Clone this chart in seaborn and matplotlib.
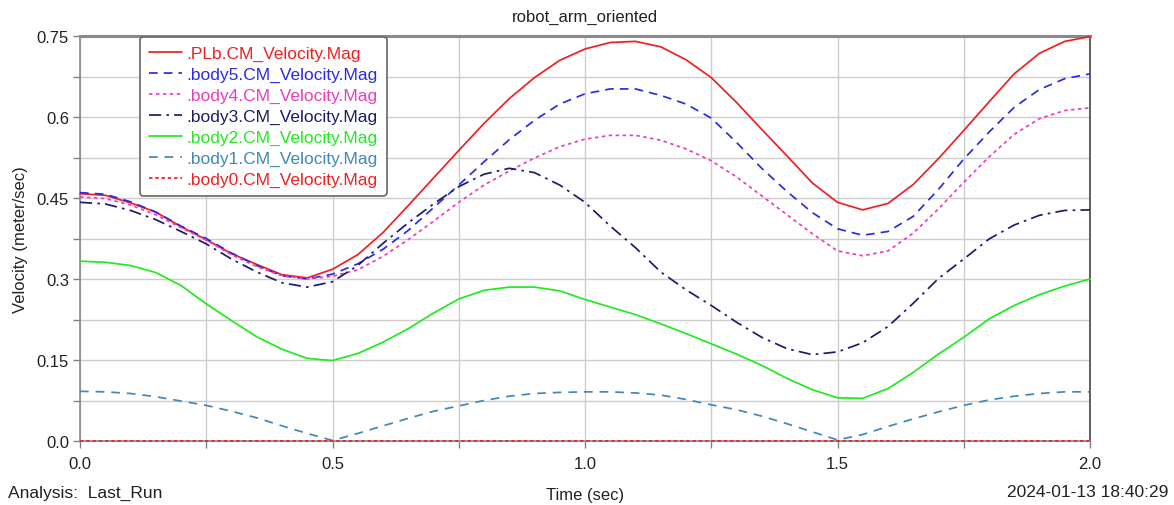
import numpy as np
import pandas as pd
import matplotlib
matplotlib.use("Agg")
import matplotlib.pyplot as plt
from matplotlib.lines import Line2D
from matplotlib.ticker import MultipleLocator, FormatStrFormatter
import seaborn as sns

# ---- data -----------------------------------------------------------------
time_s = np.round(np.arange(0, 2.0001, 0.05), 2)

plb = [0.458, 0.455, 0.441, 0.424, 0.397, 0.373, 0.347, 0.327, 0.308, 0.302,
       0.318, 0.345, 0.386, 0.436, 0.487, 0.538, 0.588, 0.634, 0.673, 0.705,
       0.726, 0.738, 0.740, 0.730, 0.706, 0.673, 0.627, 0.577, 0.528, 0.478,
       0.442, 0.428, 0.440, 0.475, 0.523, 0.575, 0.628, 0.680, 0.718, 0.740,
       0.749]
body5 = [0.460, 0.457, 0.443, 0.424, 0.398, 0.375, 0.348, 0.325, 0.306, 0.300,
         0.309, 0.328, 0.355, 0.390, 0.432, 0.474, 0.517, 0.558, 0.594, 0.624,
         0.643, 0.652, 0.652, 0.640, 0.624, 0.598, 0.553, 0.505, 0.462, 0.423,
         0.393, 0.381, 0.388, 0.416, 0.466, 0.522, 0.572, 0.618, 0.651, 0.671,
         0.680]
body4 = [0.452, 0.449, 0.437, 0.419, 0.395, 0.372, 0.345, 0.323, 0.306, 0.300,
         0.305, 0.317, 0.342, 0.373, 0.407, 0.442, 0.474, 0.500, 0.524, 0.545,
         0.559, 0.566, 0.566, 0.557, 0.541, 0.519, 0.489, 0.454, 0.419, 0.384,
         0.352, 0.343, 0.352, 0.385, 0.430, 0.479, 0.526, 0.568, 0.597, 0.612,
         0.617]
body3 = [0.442, 0.439, 0.427, 0.410, 0.388, 0.365, 0.337, 0.313, 0.293, 0.285,
         0.295, 0.325, 0.366, 0.404, 0.439, 0.471, 0.494, 0.505, 0.497, 0.474,
         0.442, 0.398, 0.358, 0.313, 0.280, 0.251, 0.220, 0.192, 0.171, 0.160,
         0.165, 0.182, 0.212, 0.255, 0.301, 0.337, 0.374, 0.400, 0.418, 0.427,
         0.428]
body2 = [0.333, 0.331, 0.325, 0.312, 0.288, 0.254, 0.223, 0.193, 0.170, 0.153,
         0.149, 0.162, 0.183, 0.208, 0.237, 0.263, 0.279, 0.285, 0.285, 0.278,
         0.262, 0.248, 0.234, 0.217, 0.199, 0.180, 0.161, 0.140, 0.116, 0.095,
         0.080, 0.079, 0.097, 0.127, 0.161, 0.192, 0.226, 0.251, 0.271, 0.287,
         0.300]
body1 = [0.092, 0.091, 0.088, 0.082, 0.074, 0.066, 0.055, 0.043, 0.028, 0.014,
         0.001, 0.014, 0.028, 0.042, 0.055, 0.065, 0.075, 0.083, 0.088, 0.090,
         0.091, 0.091, 0.089, 0.085, 0.077, 0.067, 0.058, 0.046, 0.032, 0.017,
         0.002, 0.012, 0.027, 0.041, 0.054, 0.066, 0.076, 0.083, 0.088, 0.091,
         0.091]
body0 = [0.0] * len(time_s)

series_names = [".PLb.CM_Velocity.Mag", ".body5.CM_Velocity.Mag",
                ".body4.CM_Velocity.Mag", ".body3.CM_Velocity.Mag",
                ".body2.CM_Velocity.Mag", ".body1.CM_Velocity.Mag",
                ".body0.CM_Velocity.Mag"]
series_values = [plb, body5, body4, body3, body2, body1, body0]

# ---- styling --------------------------------------------------------------
colors = ["#f02020", "#2a2ae8", "#ee3cbc", "#1c1c6a", "#22ea22", "#4088b8", "#f02020"]
styles = ["-", (0, (5, 3.5)), (0, (2, 2)), (0, (7, 3, 1.5, 3)), "-",
          (0, (5, 4)), (0, (2, 1.6))]

sns.set_theme(style="white")
plt.rcParams["font.family"] = ["Liberation Sans", "DejaVu Sans"]
text_color = "#222222"

fig = plt.figure(figsize=(11.74, 5.06), dpi=100)
ax = fig.add_axes([80 / 1174, 64 / 506, 1010 / 1174, 405 / 506])

lw = 1.25
handles = []
for name, vals, c, ls in zip(series_names, series_values, colors, styles):
    df = pd.DataFrame({"t": time_s, "v": vals})
    sns.lineplot(data=df, x="t", y="v", ax=ax, color=c, linestyle=ls,
                 linewidth=lw, estimator=None, sort=False, errorbar=None,
                 clip_on=False, zorder=3)
    handles.append(Line2D([], [], color=c, linestyle=ls, linewidth=lw))

ax.set_xlim(0, 2.0)
ax.set_ylim(0, 0.75)
ax.xaxis.set_major_locator(MultipleLocator(0.5))
ax.xaxis.set_minor_locator(MultipleLocator(0.25))
ax.yaxis.set_major_locator(MultipleLocator(0.15))
ax.yaxis.set_minor_locator(MultipleLocator(0.075))
ax.xaxis.set_major_formatter(FormatStrFormatter("%.1f"))
ax.yaxis.set_major_formatter(matplotlib.ticker.FuncFormatter(
    lambda v, p: "0.0" if abs(v) < 1e-9 else ("%.2f" % v).rstrip("0")))

ax.grid(True, which="both", color="#cccccc", linewidth=1.0, zorder=0)
ax.set_axisbelow(True)
ax.tick_params(axis="both", which="both", direction="out", length=5,
               width=1.0, color="#808080", labelsize=12, labelcolor=text_color,
               left=True, bottom=True)
ax.tick_params(axis="x", which="major", pad=6)
ax.tick_params(axis="y", which="major", pad=3)

for side in ["left", "bottom"]:
    ax.spines[side].set_color("#8a8a8a")
    ax.spines[side].set_linewidth(1.2)
ax.spines["top"].set_color("#8a8a8a")
ax.spines["top"].set_linewidth(2.2)
ax.spines["right"].set_color("#444444")
ax.spines["right"].set_linewidth(1.2)

ax.set_xlabel("Time (sec)", fontsize=12, color=text_color, labelpad=11)
ax.set_ylabel("Velocity (meter/sec)", fontsize=12, color=text_color, labelpad=6)
ax.set_title("robot_arm_oriented", fontsize=12, color=text_color, pad=11)

leg = ax.legend(handles, series_names, loc="upper left",
                bbox_to_anchor=(60 / 1010, 1.0 - 1 / 405), fontsize=12.5,
                handlelength=1.9, handletextpad=0.3, labelspacing=0.33,
                borderpad=0.5, borderaxespad=0.0, frameon=True, fancybox=True)
leg.get_frame().set_edgecolor("#666666")
leg.get_frame().set_linewidth(1.2)
leg.get_frame().set_facecolor("white")
leg.get_frame().set_alpha(1.0)
leg.set_zorder(10)
for txt, c in zip(leg.get_texts(), colors):
    txt.set_color(c)

fig.text(8 / 1174, 1 - 493 / 506, "Analysis:  Last_Run", fontsize=12.5,
         color=text_color, ha="left", va="center")
fig.text(1168 / 1174, 1 - 493 / 506, "2024-01-13 18:40:29", fontsize=12.5,
         color=text_color, ha="right", va="center")

fig.savefig("out.png", dpi=100, facecolor="white")
